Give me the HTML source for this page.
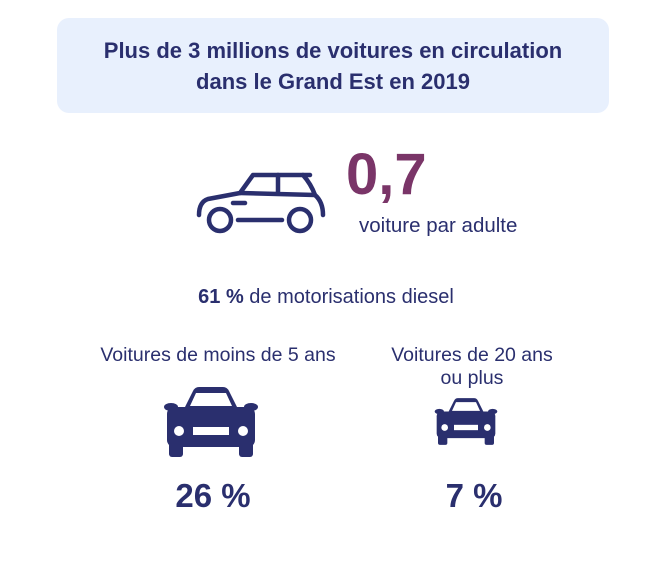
<!DOCTYPE html>
<html><head><meta charset="utf-8"><style>
body{margin:0;width:670px;height:562px;background:#fff;font-family:"Liberation Sans",sans-serif;color:#2a2f6e;position:relative;overflow:hidden}
.t{position:absolute;white-space:nowrap;text-align:center}
</style></head><body>
<div style="position:absolute;left:57px;top:18px;width:552px;height:95px;background:#e8f0fd;border-radius:12px"></div>
<div class="t" style="left:57px;width:552px;top:35px;font-size:22px;font-weight:bold;line-height:31px">Plus de 3 millions de voitures en circulation<br>dans le Grand Est en 2019</div>

<svg style="position:absolute;left:196px;top:172px" width="134" height="64" viewBox="0 0 134 64" fill="none" stroke="#2a2f6e" stroke-width="4.5" stroke-linecap="round" stroke-linejoin="round">
<path d="M57 3 L114 3 M57 3 L44 21 L12 27 Q3 30 3 43"/>
<path d="M107 3 Q115 12 119 23 Q127 30 127 43"/>
<path d="M44 21 L119 23 M82 3 L82 22"/>
<path d="M37 31 L49 31"/>
<circle cx="24" cy="48" r="11"/><circle cx="104" cy="48" r="11"/>
<path d="M42 48 L86 48"/>
</svg>
<div class="t" style="left:346px;top:140px;font-size:58px;font-weight:bold;color:#7a3568;line-height:70px">0,7</div>
<div class="t" style="left:359px;top:214px;font-size:20.5px">voiture par adulte</div>
<div class="t" style="left:326px;width:0;top:286px;font-size:20px"><div style="transform:translateX(-50%);display:inline-block"><b>61 %</b> de motorisations diesel</div></div>
<div class="t" style="left:98px;width:240px;top:344px;font-size:19.5px">Voitures de moins de 5 ans</div>
<div class="t" style="left:372px;width:200px;top:344px;font-size:19.5px;line-height:23px">Voitures de 20 ans<br>ou plus</div>

<svg style="position:absolute;left:163px;top:387px" width="96" height="70" viewBox="0 0 96 70">
<g fill="#2a2f6e">
<path d="M22 20 L30 4 Q32 0 36 0 L60 0 Q64 0 66 4 L74 20 Z"/>
<ellipse cx="8" cy="20" rx="7" ry="4"/><ellipse cx="88" cy="20" rx="7" ry="4"/>
<rect x="4" y="20" width="88" height="40" rx="7"/>
<rect x="6" y="50" width="14" height="20" rx="3"/><rect x="76" y="50" width="14" height="20" rx="3"/>
</g>
<path d="M27 19 L33 6 L63 6 L69 19 Z" fill="#fff"/>
<circle cx="16" cy="44" r="5" fill="#fff"/><circle cx="80" cy="44" r="5" fill="#fff"/>
<rect x="30" y="40" width="36" height="8" fill="#fff"/>
</svg>
<svg style="position:absolute;left:434px;top:398px" width="64" height="47" viewBox="0 0 96 70">
<g fill="#2a2f6e">
<path d="M22 20 L30 4 Q32 0 36 0 L60 0 Q64 0 66 4 L74 20 Z"/>
<ellipse cx="8" cy="20" rx="7" ry="4"/><ellipse cx="88" cy="20" rx="7" ry="4"/>
<rect x="4" y="20" width="88" height="40" rx="7"/>
<rect x="6" y="50" width="14" height="20" rx="3"/><rect x="76" y="50" width="14" height="20" rx="3"/>
</g>
<path d="M27 19 L33 6 L63 6 L69 19 Z" fill="#fff"/>
<circle cx="16" cy="44" r="5" fill="#fff"/><circle cx="80" cy="44" r="5" fill="#fff"/>
<rect x="30" y="40" width="36" height="8" fill="#fff"/>
</svg>
<div class="t" style="left:113px;width:200px;top:477px;font-size:33px;font-weight:bold">26 %</div>
<div class="t" style="left:374px;width:200px;top:477px;font-size:33px;font-weight:bold">7 %</div>
</body></html>
